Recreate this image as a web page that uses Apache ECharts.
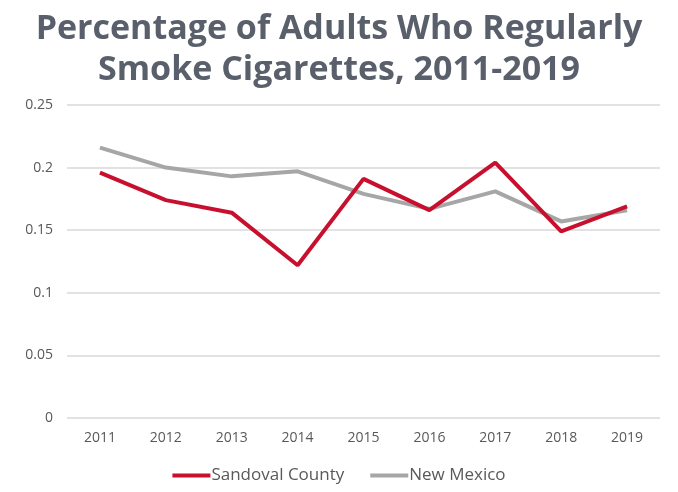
<!DOCTYPE html>
<html>
<head>
<meta charset="utf-8">
<script src="https://cdn.jsdelivr.net/npm/echarts@6/dist/echarts.min.js"></script>
<style>
html,body{margin:0;padding:0;background:#fff;}
#chart{width:678px;height:492px;}
</style>
</head>
<body>
<div id="chart"></div>
<script>
const years = ['2011','2012','2013','2014','2015','2016','2017','2018','2019'];
const sandoval = [0.196, 0.174, 0.164, 0.122, 0.191, 0.166, 0.204, 0.149, 0.169];
const newMexico = [0.216, 0.200, 0.193, 0.197, 0.179, 0.167, 0.181, 0.157, 0.166];
const yTicks = [0, 0.05, 0.1, 0.15, 0.2, 0.25];

const chart = echarts.init(document.getElementById('chart'));
chart.setOption({
  animation: false,
  backgroundColor: '#ffffff',
  title: {
    text: 'Percentage of Adults Who Regularly\nSmoke Cigarettes, 2011-2019',
    left: 'center',
    top: 4,
    textStyle: {
      fontFamily: 'Open Sans',
      fontWeight: 'bold',
      fontSize: 34,
      lineHeight: 41,
      color: '#5a606b'
    }
  },
  legend: {
    bottom: 3,
    left: 'center',
    itemWidth: 38,
    itemHeight: 4,
    itemGap: 26,
    icon: 'rect',
    textStyle: { fontFamily: 'Open Sans', fontSize: 17, color: '#595959', padding: [0,0,0,-4] },
    data: ['Sandoval County', 'New Mexico']
  },
  grid: { left: 67, right: 18, top: 105, bottom: 74, containLabel: false },
  xAxis: {
    type: 'category',
    data: years,
    boundaryGap: true,
    axisLine: { show: false },
    axisTick: { show: false },
    axisLabel: { fontFamily: 'Open Sans', fontSize: 14, color: '#595959', margin: 13 }
  },
  yAxis: {
    type: 'value',
    min: yTicks[0],
    max: yTicks[yTicks.length - 1],
    interval: 0.05,
    axisLine: { show: false },
    axisTick: { show: false },
    splitLine: { lineStyle: { color: '#d9d9d9', width: 1.5 } },
    axisLabel: {
      fontFamily: 'Open Sans', fontSize: 14, color: '#595959', margin: 14,
      formatter: v => String(parseFloat(v.toFixed(2)))
    }
  },
  series: [
    {
      name: 'Sandoval County', type: 'line', data: sandoval,
      symbol: 'none', z: 3,
      lineStyle: { color: '#c8102e', width: 4 },
      itemStyle: { color: '#c8102e' }
    },
    {
      name: 'New Mexico', type: 'line', data: newMexico,
      symbol: 'none', z: 2,
      lineStyle: { color: '#a6a6a6', width: 4 },
      itemStyle: { color: '#a6a6a6' }
    }
  ]
});
</script>
</body>
</html>
